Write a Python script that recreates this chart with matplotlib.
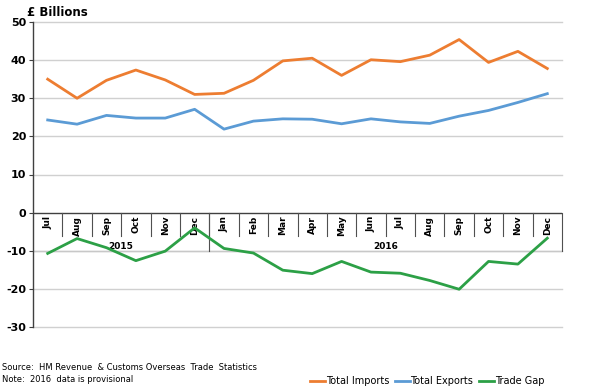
import matplotlib
matplotlib.use("Agg")
import matplotlib.pyplot as plt
from matplotlib.lines import Line2D

months = ["Jul", "Aug", "Sep", "Oct", "Nov", "Dec",
          "Jan", "Feb", "Mar", "Apr", "May", "Jun", "Jul", "Aug", "Sep", "Oct", "Nov", "Dec"]
years = ["2015", "2016"]
year_counts = [6, 12]

imports = [35.0, 30.0, 34.7, 37.4, 34.8, 31.0, 31.3, 34.7, 39.8, 40.5, 36.0, 40.1, 39.6, 41.3, 45.4, 39.4, 42.3, 37.8]
exports = [24.3, 23.2, 25.5, 24.8, 24.8, 27.1, 21.9, 24.0, 24.6, 24.5, 23.3, 24.6, 23.8, 23.4, 25.3, 26.8, 28.9, 31.2]
trade_gap = [-10.7, -6.8, -9.2, -12.6, -10.1, -4.0, -9.4, -10.6, -15.1, -16.0, -12.8, -15.6, -15.9, -17.8, -20.1, -12.8, -13.5, -6.7]

c_imp = "#ED7D31"
c_exp = "#5B9BD5"
c_gap = "#2CA046"

fig = plt.figure(figsize=(6, 3.92), dpi=100)
ax = fig.add_axes([33/600, 1-327/392, (562-33)/600, (327-22)/392])

x = list(range(len(months)))
ax.set_xlim(-0.5, len(months) - 0.5)
ax.set_ylim(-30, 50)

yt = [-30, -20, -10, 0, 10, 20, 30, 40, 50]
ax.set_yticks(yt)
ax.set_yticklabels([str(v) for v in yt], fontweight="bold", fontsize=8)
ax.tick_params(axis="y", length=3, width=0.8, color="#404040", pad=2)
ax.set_xticks([])
for v in yt:
    if v != 0:
        ax.axhline(v, color="#d0d0d0", lw=1.0, zorder=0, clip_on=False)
ax.axhline(0, color="#404040", lw=1.0, zorder=1)
for s in ["top", "right", "bottom"]:
    ax.spines[s].set_visible(False)
ax.spines["left"].set_color("#404040")
ax.spines["left"].set_linewidth(1.0)

# category axis labels inside the plot
sep_color = "#505050"
for i, m in enumerate(months):
    ax.text(i, -0.8, m, rotation=90, ha="center", va="top", fontsize=6.5,
            fontweight="bold", zorder=2)
    if i < len(months) - 1:
        ax.plot([i + 0.5, i + 0.5], [0, -6], color=sep_color, lw=0.8, zorder=1)
start = 0
for yr, n in zip(years, year_counts):
    end = start + n
    ax.text((start + end - 1) / 2, -9.0, yr, ha="center", va="center", fontsize=6.5,
            fontweight="bold", zorder=2)
    ax.plot([end - 0.5, end - 0.5], [0, -10], color=sep_color, lw=0.8, zorder=1,
            clip_on=False)
    start = end
ax.plot([-0.5, len(months) - 0.5], [-10, -10], color="#c8c8c8", lw=1.0, zorder=0)

ax.plot(x, imports, color=c_imp, lw=2.0, zorder=3)
ax.plot(x, exports, color=c_exp, lw=2.0, zorder=3)
ax.plot(x, trade_gap, color=c_gap, lw=2.0, zorder=3)

fig.text(27/600, 1-12/392, "£ Billions", fontsize=8.5, fontweight="bold", va="center", ha="left")
fig.text(2/600, 1-368/392, "Source:  HM Revenue  & Customs Overseas  Trade  Statistics",
         fontsize=6, va="center", ha="left")
fig.text(2/600, 1-379/392, "Note:  2016  data is provisional", fontsize=6, va="center", ha="left")

handles = [Line2D([], [], color=c_imp, lw=2), Line2D([], [], color=c_exp, lw=2),
           Line2D([], [], color=c_gap, lw=2)]
fig.legend(handles, ["Total Imports", "Total Exports", "Trade Gap"], loc="center right",
           bbox_to_anchor=(553/600, 1-381/392), ncol=3, frameon=False, fontsize=7,
           handlelength=1.5, handletextpad=0.1, columnspacing=0.6)

fig.savefig("out.png", dpi=100)
